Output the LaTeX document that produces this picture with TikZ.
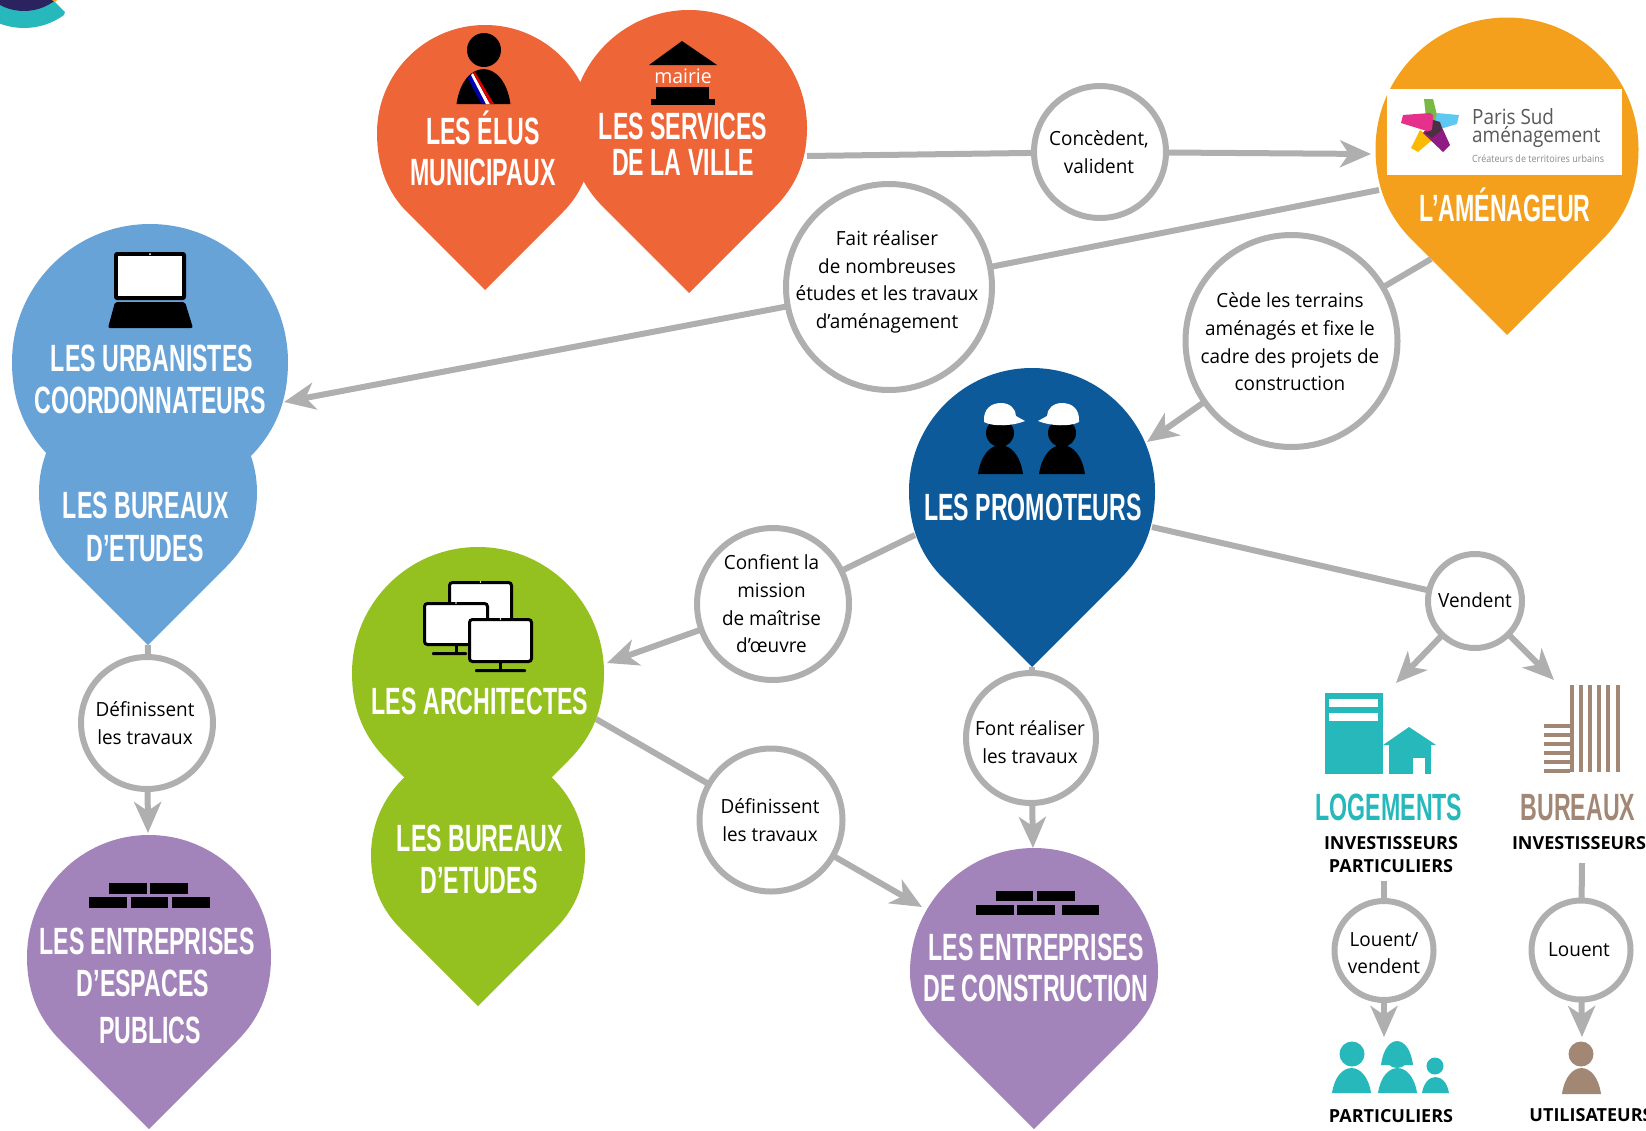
\documentclass[tikz,border=0pt]{standalone}
\usepackage{fontspec}
\usetikzlibrary{arrows.meta}
\setmainfont[FakeStretch=0.97]{Open Sans}
\newfontfamily\pinfont[FakeStretch=0.61]{Liberation Sans}
\newfontfamily\logofont[FakeStretch=0.9]{Open Sans}
\newfontfamily\capsfont{Open Sans}
\definecolor{orangePin}{HTML}{EE6538}
\definecolor{amberPin}{HTML}{F5A01C}
\definecolor{bluePin}{HTML}{68A3D8}
\definecolor{greenPin}{HTML}{94C120}
\definecolor{navyPin}{HTML}{0C5A9A}
\definecolor{purplePin}{HTML}{A384BA}
\definecolor{tealIcon}{HTML}{27B8BC}
\definecolor{brownIcon}{HTML}{A28775}
\definecolor{linkGray}{HTML}{AFAFAF}
\definecolor{logoGray}{HTML}{58595B}
\definecolor{cornerNavy}{HTML}{2B2360}
\definecolor{starGreen}{HTML}{7AB844}
\definecolor{starCyan}{HTML}{5EC8F2}
\definecolor{starYellow}{HTML}{FBB900}
\definecolor{starPurple}{HTML}{8F1C82}
\definecolor{starPink}{HTML}{E5308C}
\definecolor{starDark}{HTML}{4A3040}
\newcommand{\pin}[6]{%
  \pgfmathsetmacro\pinL{#3-#5}
  \pgfmathsetmacro\pinR{#3+#5}
  \pgfmathsetmacro\pinT{#4-#5}
  \pgfmathsetmacro\ctK{0.5523*#5}
  \pgfmathsetmacro\shL{#3-0.72*#5}
  \pgfmathsetmacro\shR{#3+0.72*#5}
  \pgfmathsetmacro\shY{#6-0.72*#5}
  \pgfmathsetmacro\shG{0.168*#5}
  \pgfmathsetmacro\ctY{#4+(\shY-#4)*0.45}
  \node[pinhead,minimum size={2*#5pt}] (#1) at (#3,#4) {};
  \fill[#2] (\pinL,#4) .. controls (\pinL,{#4-\ctK}) and ({#3-\ctK},\pinT) .. (#3,\pinT)
    .. controls ({#3+\ctK},\pinT) and (\pinR,{#4-\ctK}) .. (\pinR,#4)
    .. controls (\pinR,\ctY) and ({\shR+\shG},{\shY-\shG}) .. (\shR,\shY)
    -- (#3,#6) -- (\shL,\shY) .. controls ({\shL-\shG},{\shY-\shG}) and (\pinL,\ctY) .. (\pinL,#4) -- cycle;
  \coordinate (#1Tip) at (#3,#6);
}
\newcommand{\dome}[5]{%
  \fill[#1] ({#2-#4},#3) .. controls ({#2-0.75*#4},{#3-1.33*#5}) and ({#2+0.75*#4},{#3-1.33*#5}) .. ({#2+#4},#3) -- cycle;
}
\newcommand{\monitor}[6]{%
  \fill ({#1+#3*0.5-1.5},#4) rectangle ({#1+#3*0.5+1.5},{#4+6});
  \fill[rounded corners=1pt] (#5,{#4+6}) rectangle (#6,{#4+9});
  \draw[line width=3pt,fill=white,rounded corners=3pt] ({#1+1.5},{#2+1.5}) rectangle ({#1+#3-1.5},{#4-1.5});
  \fill[white] ({#1+#3*0.5},{#2+1}) circle (0.8pt);
}
\newcommand{\helmet}[2]{%
  \begin{scope}[shift={(#1,403)},xscale=#2]
    \fill[white] (-17,19) .. controls (-18,6) and (-10,0) .. (0,0) .. controls (9,0) and (15,6) .. (15,13)
      -- (24,18) .. controls (12,23) and (-8,24) .. (-17,19) -- cycle;
  \end{scope}
}
\begin{document}
\begin{tikzpicture}[x=1pt,y=-1pt,>={Stealth[length=31pt,width=27pt,inset=9pt]}]
  \tikzstyle{pinhead}=[circle,inner sep=0pt,outer sep=0pt,draw=none]
  \tikzstyle{ring}=[circle,inner sep=0pt,outer sep=0pt,draw=linkGray,fill=white,line width=6pt]
  \tikzstyle{link}=[draw=linkGray,line width=6pt]
  \tikzstyle{pintext}=[text=white,inner sep=0pt,text height=27pt,text depth=0pt,font=\pinfont\bfseries\fontsize{38}{38}\selectfont]
  \tikzstyle{ringtext}=[align=center,inner sep=0pt,font=\fontsize{19.5}{27.7}\selectfont]
  \tikzstyle{capstext}=[inner sep=0pt,font=\capsfont\bfseries\fontsize{18}{18}\selectfont]

  \useasboundingbox (0,0) rectangle (1646,1130);

  \begin{scope}
    \clip (0,0) -- (53,0) -- (65,12) -- (55,40) -- (0,40) -- cycle;
    \fill[tealIcon] (24,-40) circle (68pt);
    \fill[cornerNavy] (24,-40) circle (51pt);
  \end{scope}
  \fill[amberPin] (52,0) -- (57,0) -- (55,2) -- cycle;

  \pin{elus}{orangePin}{485}{133}{108}{290}
  \pin{services}{orangePin}{689}{128}{118}{293}
  \pin{amenageur}{amberPin}{1507}{149}{131.5}{335}
  \pin{urbanistes}{bluePin}{150}{362}{138}{557}
  \pin{etudesA}{bluePin}{148}{492}{109}{645}
  \pin{architectes}{greenPin}{478}{673}{126}{851}
  \pin{etudesB}{greenPin}{478}{855}{107}{1006}
  \pin{promoteurs}{navyPin}{1032}{491}{123}{667}
  \pin{espaces}{purplePin}{149}{957}{122}{1129}
  \pin{construction}{purplePin}{1034}{972}{124}{1129}

  \fill (484,50) circle (17pt);
  \dome{black}{483.5}{104}{27}{35}
  \begin{scope}
    \clip (456,104) .. controls (463,58) and (504,58) .. (511,104) -- cycle;
    \fill[blue!70!black] (467.7,78) -- (471,75) -- (486,104) -- (481.7,104) -- cycle;
    \fill[white] (471,75) -- (473,73) -- (490,104) -- (486,104) -- cycle;
    \fill[red!85!black] (473,73) -- (475,72) -- (494,104) -- (490,104) -- cycle;
  \end{scope}

  \fill (682,41) -- (717,65) -- (649,65) -- cycle;
  \node[text=white,inner sep=0pt,font=\fontsize{20}{20}\selectfont] (mairie) at (683,76) {mairie};
  \fill (656,87) rectangle (709,99);
  \fill (651,99) rectangle (715,105);

  \fill[white] (1387,89) rectangle (1622,175);
  \fill[starGreen] (1424,99) -- (1433,99) -- (1440,127) -- (1427,127) -- cycle;
  \fill[starCyan] (1437,113) -- (1459,115) -- (1457,124) -- (1440,129) -- (1435,123) -- cycle;
  \fill[starYellow] (1420,130) -- (1432,140) -- (1418,152) -- (1411,148) -- cycle;
  \fill[starPurple] (1433,120) -- (1440,123) -- (1450,145) -- (1443,152) -- (1423,133) -- cycle;
  \fill[starPink] (1403,115) -- (1430,113) -- (1433,115) -- (1433,128) -- (1430,132) -- (1401,123) -- cycle;
  \fill[starDark] (1433,120) -- (1440,122) -- (1442,130) -- (1432,138) -- (1425,133) -- (1432,130) -- cycle;
  \node[anchor=base west,inner sep=0pt,text=logoGray,font=\logofont\fontsize{21}{21}\selectfont] (logoA) at (1472,124) {Paris Sud};
  \node[anchor=base west,inner sep=0pt,text=logoGray,font=\logofont\fontsize{21}{21}\selectfont] (logoB) at (1472,142) {aménagement};
  \node[anchor=west,inner sep=0pt,text=logoGray!70,font=\logofont\fontsize{10}{10}\selectfont] (logoC) at (1472,159) {Créateurs de territoires urbains};

  \fill[rounded corners=3pt] (114,252) rectangle (186,300);
  \fill[white] (118,256) rectangle (182,296);
  \fill[white] (150,254) circle (1pt);
  \fill[rounded corners=2pt] (115,302) -- (185,302) -- (193,328) -- (108,328) -- cycle;

  \monitor{448}{581}{65}{630}{448}{448}
  \monitor{423}{602}{66}{646}{432}{467}
  \monitor{468}{618}{65}{663}{475}{526}

  \fill (1000,433) circle (14pt);
  \fill (1062,433) circle (14pt);
  \dome{black}{1000.5}{474}{22.5}{29}
  \dome{black}{1062}{474}{23}{29}
  \helmet{1001}{1}
  \helmet{1062}{-1}

  \foreach \xa/\xb in {109/147,150/188}
    \fill (\xa,883) rectangle (\xb,894);
  \foreach \xa/\xb in {89/127,131/168,172/210}
    \fill (\xa,897) rectangle (\xb,908);
  \foreach \xa/\xb in {996/1033,1037/1075}
    \fill (\xa,891) rectangle (\xb,901);
  \foreach \xa/\xb in {976/1014,1017/1055,1062/1099}
    \fill (\xa,905) rectangle (\xb,915);

  \fill[tealIcon] (1325,693) rectangle (1383,774);
  \fill[white] (1329,699) rectangle (1378,707);
  \fill[white] (1329,713) rectangle (1378,721);
  \fill[tealIcon] (1383,745) -- (1409,727) -- (1436,745) -- cycle;
  \fill[tealIcon] (1389,745) rectangle (1431,774);
  \fill[white] (1413,758) rectangle (1425,774);

  \foreach \i in {0,...,5}
    \fill[brownIcon] ({1569.5+9.2*\i},685) rectangle ({1573.5+9.2*\i},772);
  \foreach \i in {0,...,5}
    \fill[brownIcon] (1544,{724+8.9*\i}) rectangle (1569.5,{728+8.9*\i});

  \fill[tealIcon] (1352,1054) circle (12.5pt);
  \dome{tealIcon}{1351.5}{1093}{19.5}{25}
  \dome{tealIcon}{1397}{1065}{16}{24}
  \fill[tealIcon] (1397,1056) circle (12pt);
  \dome{tealIcon}{1397.5}{1093}{19.5}{25}
  \fill[tealIcon] (1435,1066) circle (8.5pt);
  \dome{tealIcon}{1435.5}{1093}{13.5}{16}
  \fill[brownIcon] (1581,1054) circle (12.5pt);
  \dome{brownIcon}{1581.5}{1094}{19.5}{26}

  \node[pintext] (elusA) at (483,131) {LES ÉLUS};
  \node[pintext] (elusB) at (483,172) {MUNICIPAUX};
  \node[pintext] (servicesA) at (683,126) {LES SERVICES};
  \node[pintext] (servicesB) at (683,162) {DE LA VILLE};
  \node[pintext] (amenageurA) at (1505,208) {L’AMÉNAGEUR};
  \node[pintext] (urbanistesA) at (152,358) {LES URBANISTES};
  \node[pintext] (urbanistesB) at (150,400) {COORDONNATEURS};
  \node[pintext] (etudesAa) at (146,505) {LES BUREAUX};
  \node[pintext] (etudesAb) at (145,548) {D’ETUDES};
  \node[pintext] (architectesA) at (480,701) {LES ARCHITECTES};
  \node[pintext] (etudesBa) at (480,838) {LES BUREAUX};
  \node[pintext] (etudesBb) at (479,880) {D’ETUDES};
  \node[pintext] (promoteursA) at (1033,507) {LES PROMOTEURS};
  \node[pintext] (espacesA) at (147,941) {LES ENTREPRISES};
  \node[pintext] (espacesB) at (143,983) {D’ESPACES};
  \node[pintext] (espacesC) at (150,1030) {PUBLICS};
  \node[pintext] (constructionA) at (1036,947) {LES ENTREPRISES};
  \node[pintext] (constructionB) at (1036,988) {DE CONSTRUCTION};
  \node[pintext,text=tealIcon] (logements) at (1389,807) {LOGEMENTS};
  \node[pintext,text=brownIcon] (bureaux) at (1578,807) {BUREAUX};

  \node[capstext] (investA) at (1391,843) {INVESTISSEURS};
  \node[capstext] (partA) at (1391,866) {PARTICULIERS};
  \node[capstext] (investB) at (1579,843) {INVESTISSEURS};
  \node[capstext] (partB) at (1391,1116) {PARTICULIERS};
  \node[capstext] (utilB) at (1591,1115) {UTILISATEURS};

  \node[ring,minimum size=132pt] (concede) at (1100,152) {};
  \node[ring,minimum size=206pt] (fait) at (889,287) {};
  \node[ring,minimum size=212pt] (cede) at (1291.5,341) {};
  \node[ring,minimum size=152pt] (confient) at (773,604) {};
  \node[ring,minimum size=94pt] (vendent) at (1475,601) {};
  \node[ring,minimum size=130pt] (font) at (1031,738) {};
  \node[ring,minimum size=143pt] (definitB) at (771,820) {};
  \node[ring,minimum size=132pt] (definitA) at (147,723) {};
  \node[ring,minimum size=99pt] (louentA) at (1384,950.5) {};
  \node[ring,minimum size=99pt] (louentB) at (1581,950) {};

  \node[ringtext] (concedeT) at (1099,152) {Concèdent,\\valident};
  \node[ringtext] (faitT) at (887,282) {Fait réaliser\\de nombreuses\\études et les travaux\\d’aménagement};
  \node[ringtext] (cedeT) at (1290,342) {Cède les terrains\\aménagés et fixe le\\cadre des projets de\\construction};
  \node[ringtext] (confientT) at (771.5,604) {Confient la\\mission\\de maîtrise\\d’œuvre};
  \node[ringtext] (vendentT) at (1475,600) {Vendent};
  \node[ringtext] (fontT) at (1030,742) {Font réaliser\\les travaux};
  \node[ringtext] (definitBT) at (770,820) {Définissent\\les travaux};
  \node[ringtext] (definitAT) at (145,723) {Définissent\\les travaux};
  \node[ringtext] (louentAT) at (1384,953) {Louent/\\vendent};
  \node[ringtext] (louentBT) at (1579,950) {Louent};

  \coordinate (servicesOut) at (807,156);
  \coordinate (amenageurIn) at (1371,154);
  \coordinate (amenageurOutA) at (1379,190);
  \coordinate (urbanistesIn) at (284,402);
  \coordinate (amenageurOutB) at (1431,259);
  \coordinate (promoteursIn) at (1147,442);
  \coordinate (promoteursOutA) at (915,535);
  \coordinate (architectesIn) at (607,663);
  \coordinate (promoteursOutB) at (1152,527);
  \coordinate (logementsIn) at (1396,683);
  \coordinate (bureauxIn) at (1554,680);
  \coordinate (constructionInA) at (1033,848);
  \coordinate (architectesOut) at (596,719);
  \coordinate (constructionInB) at (922,907);
  \coordinate (espacesIn) at (148,833);
  \coordinate (partOut) at (1384,881);
  \coordinate (partIn) at (1384,1037);
  \coordinate (utilOut) at (1582,863);
  \coordinate (utilIn) at (1582,1037);

  \draw[link] (servicesOut) -- (concede);
  \draw[link,->] (concede) -- (amenageurIn);
  \draw[link] (amenageurOutA) -- (fait);
  \draw[link,->] (fait) -- (urbanistesIn);
  \draw[link] (amenageurOutB) -- (cede);
  \draw[link,->] (cede) -- (promoteursIn);
  \draw[link] (promoteursOutA) -- (confient);
  \draw[link,->] (confient) -- (architectesIn);
  \draw[link] (promoteursOutB) -- (vendent);
  \draw[link,->] (vendent) -- (logementsIn);
  \draw[link,->] (vendent) -- (bureauxIn);
  \draw[link] (promoteursTip) -- (font);
  \draw[link,->] (font) -- (constructionInA);
  \draw[link] (architectesOut) -- (definitB);
  \draw[link,->] (definitB) -- (constructionInB);
  \draw[link] (etudesATip) -- (definitA);
  \draw[link,->] (definitA) -- (espacesIn);
  \draw[link] (partOut) -- (louentA);
  \draw[link,->] (louentA) -- (partIn);
  \draw[link] (utilOut) -- (louentB);
  \draw[link,->] (louentB) -- (utilIn);
\end{tikzpicture}
\end{document}
